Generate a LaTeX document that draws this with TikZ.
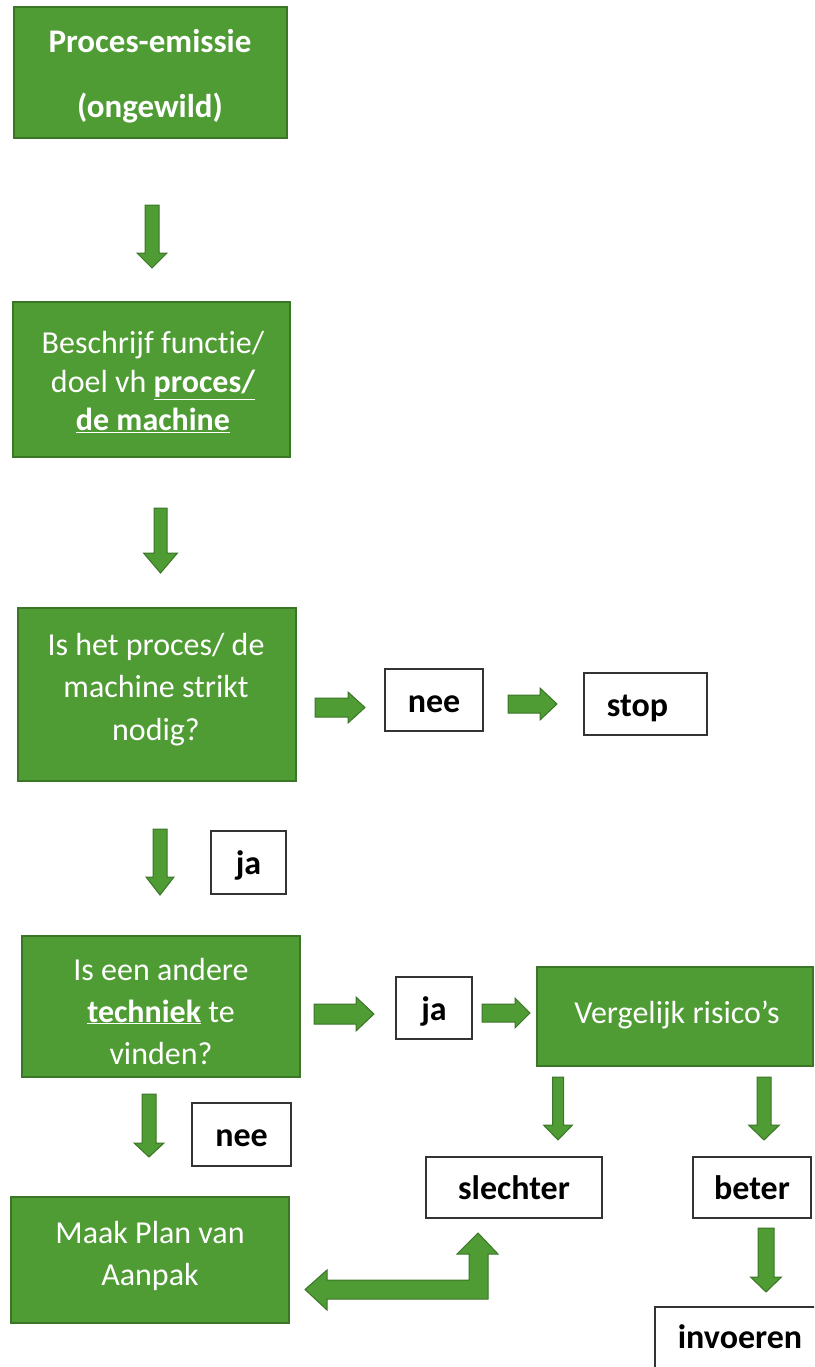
\documentclass[tikz,border=0pt]{standalone}
\usepackage{fontspec}
\setmainfont{Carlito}[Ligatures=NoCommon]
\definecolor{gfill}{RGB}{79,155,52}
\definecolor{gline}{RGB}{58,118,38}
\newcommand\blkdown[6]{% cx, ytop, ytip, shaft half, head half, head length
  \draw[barrow] (#1-#4,#2) -- (#1+#4,#2) -- (#1+#4,#3-#6) -- (#1+#5,#3-#6) -- (#1,#3)
    -- (#1-#5,#3-#6) -- (#1-#4,#3-#6) -- cycle;}
\newcommand\blkright[6]{% cy, xleft, xtip, shaft half, head half, head length
  \draw[barrow] (#2,#1-#4) -- (#3-#6,#1-#4) -- (#3-#6,#1-#5) -- (#3,#1) -- (#3-#6,#1+#5)
    -- (#3-#6,#1+#4) -- (#2,#1+#4) -- cycle;}
\begin{document}
\begin{tikzpicture}[x=1pt,y=-1pt,
  gbox/.style={draw=gline, line width=1.5pt, fill=gfill, inner sep=0pt},
  gtext/.style={text=white, align=center, inner sep=0pt, font=\fontsize{32}{39}\selectfont},
  wbox/.style={draw=black!80, line width=1.3pt, fill=white, text=black, inner sep=0pt,
    text height=24pt, text depth=0pt, font=\bfseries\fontsize{34}{40}\selectfont},
  barrow/.style={draw=gline, line width=1pt, fill=gfill, line join=miter}]
\useasboundingbox (0,0) rectangle (814,1367);
\clip (0,0) rectangle (814,1367);
\fill[white] (0,0) rectangle (814,1367);

% green boxes
\node[gbox, minimum width=273pt, minimum height=131pt] (b1) at (150.5,72.5) {};
\node[gtext, font=\bfseries\fontsize{33}{39}\selectfont] (b1t) at (150,76.5)
  {Proces-emissie\\[26pt](ongewild)};
\node[gbox, minimum width=277pt, minimum height=155pt] (b2) at (151.5,379.5) {};
\node[gtext, font=\fontsize{32}{38.5}\selectfont] (b2t) at (153,382.5)
  {Beschrijf functie/\\doel vh \textbf{\underline{proces/}}\\\textbf{\underline{de machine}}};
\node[gbox, minimum width=278pt, minimum height=173pt] (b3) at (157,694.5) {};
\node[gtext, font=\fontsize{32}{42.5}\selectfont] (b3t) at (156,689.5)
  {Is het proces/ de\\machine strikt\\nodig?};
\node[gbox, minimum width=278pt, minimum height=141pt] (b4) at (161,1006.5) {};
\node[gtext, font=\fontsize{32}{42}\selectfont] (b4t) at (161,1011)
  {Is een andere\\\textbf{\underline{techniek}} te\\vinden?};
\node[gbox, minimum width=278pt, minimum height=126pt] (b5) at (150,1260) {};
\node[gtext, font=\fontsize{32}{42}\selectfont] (b5t) at (150,1256)
  {Maak Plan van\\Aanpak};
\node[gbox, minimum width=276pt, minimum height=99pt] (verg) at (675,1016.5) {};
\node[gtext] (vergt) at (677,1015) {Vergelijk risico’s};

% white boxes
\node[wbox, minimum width=98pt, minimum height=62pt] (nee1) at (434,700) {nee};
\node[wbox, minimum width=123pt, minimum height=62pt] (stop) at (645.5,704) {stop\kern16pt};
\node[wbox, minimum width=75pt, minimum height=63pt] (ja1) at (248.5,862.5) {ja};
\node[wbox, minimum width=76pt, minimum height=62pt] (ja2) at (434,1008) {ja};
\node[wbox, minimum width=99pt, minimum height=63pt] (nee2) at (241.5,1134.5) {nee};
\node[wbox, minimum width=176pt, minimum height=61pt] (slechter) at (514,1187.5) {slechter};
\node[wbox, minimum width=118pt, minimum height=61pt] (beter) at (752,1187.5) {beter};
\node[wbox, minimum width=180pt, minimum height=66pt, text height=16pt] (invoeren) at (745,1340) {invoeren\kern10pt};

% block arrows
\blkdown{152}{205}{268}{7}{15}{15}
\blkdown{160.5}{508}{573}{6.5}{17}{20}
\blkdown{160}{829}{895}{7}{14}{18}
\blkdown{149}{1094}{1157}{7}{15}{14}
\blkdown{558}{1077}{1140}{5.5}{14.5}{15}
\blkdown{764}{1077}{1140}{7}{15.5}{15}
\blkdown{766}{1228}{1292}{8}{15.5}{15}
\blkright{707.5}{315}{365}{9.5}{15.5}{17}
\blkright{704}{508}{557}{9}{16}{17}
\blkright{1014}{314}{374}{10}{17}{18}
\blkright{1013}{482}{530}{9}{15}{15}

% bent arrow back to plan
\draw[barrow] (305,1289.5) -- (327,1270) -- (327,1280) -- (469,1280) -- (469,1254)
  -- (457,1254) -- (478,1233) -- (498,1254) -- (488,1254) -- (488,1299)
  -- (327,1299) -- (327,1310) -- cycle;
\end{tikzpicture}
\end{document}
